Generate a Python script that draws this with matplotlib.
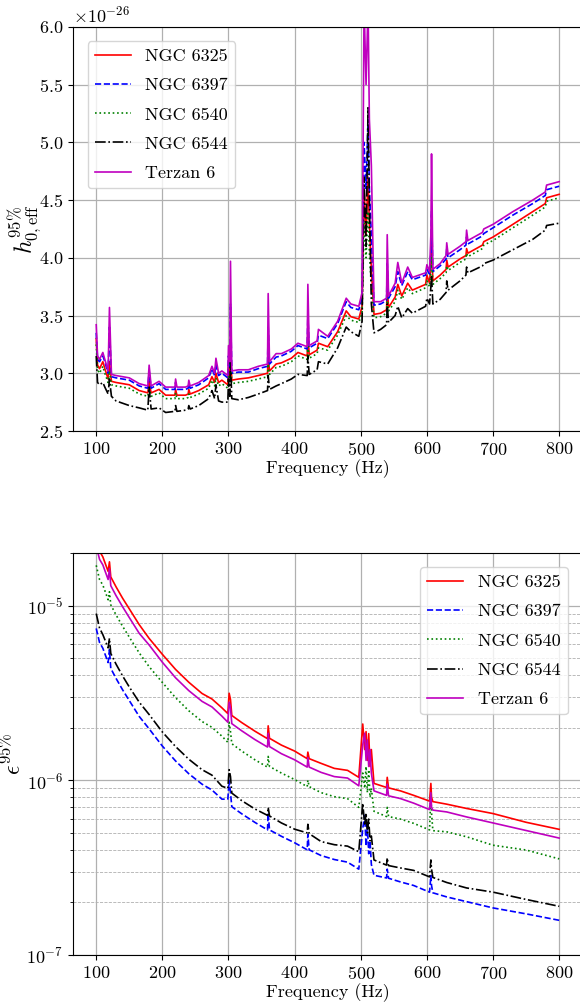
import matplotlib

matplotlib.use("Agg")
import matplotlib.pyplot as plt

plt.rcParams["font.family"] = "serif"
plt.rcParams["font.serif"] = ["cmr10", "DejaVu Serif"]
plt.rcParams["mathtext.fontset"] = "cm"
plt.rcParams["axes.formatter.use_mathtext"] = True
plt.rcParams["axes.unicode_minus"] = False

LABELS = ["NGC 6325", "NGC 6397", "NGC 6540", "NGC 6544", "Terzan 6"]
STYLES = ["r-", "b--", "g:", "k-.", "m-"]

# Top panel: effective strain upper limits (units of 1e-26)
FREQ_H = [
    100, 102, 105, 110, 113, 118, 120, 123, 130, 140,
    150, 165, 178, 180, 183, 195, 205, 219, 220, 222,
    235, 239, 240, 242, 255, 270, 275, 279, 281, 285,
    290, 299, 300, 302, 303, 305, 315, 330, 345, 359,
    360, 362, 372, 380, 395, 405, 419, 420, 422, 434,
    436, 450, 465, 478, 485, 497, 502, 505, 508, 511,
    513, 516, 520, 530, 539, 540, 542, 552, 556, 562,
    571, 578, 598, 600, 604, 606, 607, 609, 620, 629,
    630, 632, 650, 659, 660, 662, 684, 686, 700, 730,
    760, 779, 781, 800,
]
H_NGC6325 = [
    3.30, 3.07, 3.04, 3.10, 3.04, 2.95, 3.10, 2.93, 2.92, 2.91,
    2.90, 2.85, 2.83, 2.93, 2.83, 2.86, 2.81, 2.81, 2.86, 2.81,
    2.81, 2.82, 2.86, 2.82, 2.85, 2.90, 2.97, 2.92, 3.00, 2.92,
    2.94, 2.90, 3.05, 2.97, 3.20, 2.94, 2.95, 2.96, 2.98, 3.00,
    3.15, 3.02, 3.08, 3.09, 3.13, 3.18, 3.15, 3.35, 3.16, 3.20,
    3.26, 3.23, 3.36, 3.54, 3.49, 3.47, 3.58, 4.60, 4.20, 4.70,
    4.30, 3.90, 3.51, 3.52, 3.55, 3.75, 3.57, 3.66, 3.77, 3.67,
    3.78, 3.72, 3.77, 3.85, 3.78, 3.95, 4.15, 3.80, 3.85, 3.90,
    3.98, 3.92, 3.99, 4.02, 4.08, 4.04, 4.11, 4.14, 4.18, 4.29,
    4.40, 4.47, 4.52, 4.55,
]
H_NGC6397 = [
    3.35, 3.12, 3.10, 3.15, 3.10, 3.00, 3.40, 2.97, 2.96, 2.95,
    2.94, 2.89, 2.87, 3.02, 2.87, 2.91, 2.86, 2.86, 2.92, 2.86,
    2.86, 2.87, 2.91, 2.87, 2.90, 2.96, 3.04, 2.98, 3.08, 2.98,
    3.00, 2.96, 3.15, 3.05, 3.60, 3.00, 3.01, 3.01, 3.04, 3.06,
    3.40, 3.08, 3.14, 3.15, 3.19, 3.24, 3.21, 3.50, 3.22, 3.26,
    3.33, 3.30, 3.43, 3.62, 3.57, 3.55, 3.65, 5.00, 4.60, 5.20,
    4.60, 4.20, 3.59, 3.60, 3.63, 3.95, 3.65, 3.75, 3.88, 3.76,
    3.88, 3.81, 3.85, 3.90, 3.86, 4.05, 4.40, 3.88, 3.93, 3.99,
    4.08, 4.00, 4.07, 4.11, 4.18, 4.12, 4.19, 4.21, 4.26, 4.37,
    4.47, 4.54, 4.59, 4.62,
]
H_NGC6540 = [
    3.25, 3.03, 3.00, 3.06, 3.00, 2.92, 3.02, 2.90, 2.89, 2.88,
    2.87, 2.82, 2.80, 2.88, 2.80, 2.83, 2.78, 2.78, 2.83, 2.78,
    2.78, 2.79, 2.82, 2.79, 2.82, 2.87, 2.94, 2.89, 2.96, 2.89,
    2.91, 2.87, 2.99, 2.93, 3.10, 2.91, 2.92, 2.93, 2.95, 2.97,
    3.08, 2.99, 3.05, 3.06, 3.10, 3.15, 3.12, 3.25, 3.13, 3.17,
    3.22, 3.20, 3.33, 3.50, 3.46, 3.44, 3.52, 4.30, 4.00, 4.40,
    4.05, 3.75, 3.48, 3.49, 3.52, 3.65, 3.54, 3.62, 3.72, 3.64,
    3.74, 3.69, 3.74, 3.80, 3.75, 3.88, 4.00, 3.77, 3.82, 3.87,
    3.93, 3.89, 3.96, 3.99, 4.04, 4.01, 4.08, 4.11, 4.15, 4.26,
    4.37, 4.44, 4.49, 4.52,
]
H_NGC6544 = [
    3.15, 2.92, 2.90, 2.92, 2.88, 2.82, 2.95, 2.80, 2.76, 2.74,
    2.72, 2.70, 2.68, 2.88, 2.69, 2.70, 2.66, 2.67, 2.72, 2.67,
    2.68, 2.69, 2.72, 2.69, 2.72, 2.78, 2.85, 2.78, 2.90, 2.76,
    2.75, 2.75, 2.95, 2.80, 3.10, 2.78, 2.77, 2.79, 2.82, 2.85,
    2.98, 2.86, 2.89, 2.91, 2.95, 2.99, 2.98, 3.15, 2.99, 3.03,
    3.10, 3.08, 3.22, 3.40, 3.36, 3.32, 3.45, 4.70, 4.10, 5.30,
    4.50, 3.60, 3.35, 3.38, 3.42, 3.60, 3.44, 3.50, 3.58, 3.48,
    3.56, 3.52, 3.58, 3.65, 3.60, 3.75, 3.85, 3.60, 3.64, 3.70,
    3.80, 3.72, 3.80, 3.85, 3.92, 3.87, 3.93, 3.95, 3.98, 4.07,
    4.16, 4.24, 4.28, 4.30,
]
H_TERZAN6 = [
    3.42, 3.15, 3.12, 3.18, 3.12, 3.02, 3.57, 2.99, 2.98, 2.97,
    2.96, 2.91, 2.89, 3.07, 2.89, 2.93, 2.88, 2.88, 2.95, 2.88,
    2.88, 2.89, 2.94, 2.89, 2.92, 2.98, 3.06, 3.00, 3.13, 3.00,
    3.02, 2.98, 3.24, 3.10, 3.97, 3.02, 3.03, 3.03, 3.06, 3.08,
    3.69, 3.10, 3.17, 3.17, 3.21, 3.26, 3.23, 3.77, 3.24, 3.28,
    3.38, 3.32, 3.45, 3.65, 3.60, 3.58, 3.70, 6.20, 5.50, 6.20,
    5.20, 4.80, 3.62, 3.62, 3.65, 4.20, 3.67, 3.78, 3.96, 3.78,
    3.92, 3.83, 3.87, 3.94, 3.88, 4.20, 4.90, 3.90, 3.95, 4.02,
    4.13, 4.03, 4.10, 4.14, 4.24, 4.15, 4.22, 4.25, 4.29, 4.40,
    4.50, 4.57, 4.63, 4.66,
]

# Bottom panel: ellipticity upper limits
FREQ_E = [
    100, 105, 110, 118, 120, 122, 130, 140, 150, 165,
    180, 200, 220, 240, 260, 275, 290, 299, 301, 303,
    305, 320, 340, 359, 360, 362, 380, 400, 419, 420,
    422, 440, 460, 480, 497, 503, 506, 508, 510, 512,
    514, 516, 520, 539, 540, 542, 560, 580, 604, 606,
    607, 609, 630, 660, 700, 750, 800,
]
E_NGC6325 = [
    2.45e-5, 2.05e-5, 1.90e-5, 1.57e-5, 1.78e-5, 1.46e-5, 1.28e-5, 1.10e-5, 9.58e-6, 7.78e-6,
    6.49e-6, 5.26e-6, 4.31e-6, 3.64e-6, 3.14e-6, 2.92e-6, 2.60e-6, 2.41e-6, 3.15e-6, 2.90e-6,
    2.35e-6, 2.14e-6, 1.91e-6, 1.73e-6, 2.05e-6, 1.74e-6, 1.59e-6, 1.47e-6, 1.33e-6, 1.45e-6,
    1.33e-6, 1.25e-6, 1.17e-6, 1.14e-6, 1.04e-6, 2.10e-6, 1.50e-6, 1.90e-6, 1.30e-6, 1.85e-6,
    1.20e-6, 1.50e-6, 9.6e-7, 9.1e-7, 1.04e-6, 9.05e-7, 8.7e-7, 8.2e-7, 7.6e-7, 9.6e-7,
    8.0e-7, 7.55e-7, 7.3e-7, 6.9e-7, 6.45e-7, 5.75e-7, 5.24e-7,
]
E_NGC6397 = [
    7.4e-6, 6.15e-6, 5.7e-6, 4.72e-6, 5.6e-6, 4.37e-6, 3.83e-6, 3.29e-6, 2.86e-6, 2.32e-6,
    1.97e-6, 1.57e-6, 1.29e-6, 1.09e-6, 9.5e-7, 8.8e-7, 7.8e-7, 7.8e-7, 1.0e-6, 8.5e-7,
    7.06e-7, 6.43e-7, 5.74e-7, 5.2e-7, 6.5e-7, 5.2e-7, 4.78e-7, 4.39e-7, 4.0e-7, 4.9e-7,
    4.0e-7, 3.71e-7, 3.52e-7, 3.4e-7, 3.1e-7, 5.3e-7, 6.3e-7, 4.2e-7, 5.5e-7, 3.8e-7,
    4.5e-7, 3.3e-7, 2.86e-7, 2.76e-7, 3.1e-7, 2.75e-7, 2.62e-7, 2.5e-7, 2.29e-7, 2.85e-7,
    2.5e-7, 2.27e-7, 2.15e-7, 2.02e-7, 1.86e-7, 1.72e-7, 1.58e-7,
]
E_NGC6540 = [
    1.7e-5, 1.41e-5, 1.31e-5, 1.08e-5, 1.2e-5, 1.01e-5, 8.84e-6, 7.6e-6, 6.6e-6, 5.36e-6,
    4.47e-6, 3.63e-6, 2.97e-6, 2.5e-6, 2.17e-6, 2.01e-6, 1.79e-6, 1.65e-6, 2.15e-6, 1.9e-6,
    1.62e-6, 1.47e-6, 1.31e-6, 1.19e-6, 1.37e-6, 1.2e-6, 1.10e-6, 1.01e-6, 9.2e-7, 1.0e-6,
    9.2e-7, 8.5e-7, 8.06e-7, 7.85e-7, 7.0e-7, 1.1e-6, 9e-7, 1.2e-6, 8.5e-7, 1.15e-6,
    8e-7, 9e-7, 6.65e-7, 6.2e-7, 7.0e-7, 6.2e-7, 6.0e-7, 5.67e-7, 5.2e-7, 8.4e-7,
    6.5e-7, 5.15e-7, 5.07e-7, 4.75e-7, 4.25e-7, 3.99e-7, 3.55e-7,
]
E_NGC6544 = [
    9.0e-6, 7.44e-6, 6.82e-6, 5.73e-6, 6.5e-6, 5.32e-6, 4.62e-6, 3.95e-6, 3.42e-6, 2.8e-6,
    2.38e-6, 1.89e-6, 1.56e-6, 1.32e-6, 1.15e-6, 1.07e-6, 9.25e-7, 9.0e-7, 1.15e-6, 1.05e-6,
    8.45e-7, 7.65e-7, 6.85e-7, 6.3e-7, 7.0e-7, 6.25e-7, 5.7e-7, 5.25e-7, 5.0e-7, 5.6e-7,
    4.95e-7, 4.46e-7, 4.28e-7, 4.2e-7, 3.9e-7, 7.4e-7, 5.5e-7, 6.5e-7, 5.0e-7, 6.0e-7,
    4.5e-7, 4.8e-7, 3.5e-7, 3.27e-7, 3.6e-7, 3.25e-7, 3.15e-7, 3.05e-7, 2.8e-7, 3.5e-7,
    3.1e-7, 2.78e-7, 2.6e-7, 2.42e-7, 2.29e-7, 2.08e-7, 1.9e-7,
]
E_TERZAN6 = [
    2.2e-5, 1.84e-5, 1.71e-5, 1.41e-5, 1.63e-5, 1.30e-5, 1.14e-5, 9.83e-6, 8.54e-6, 6.94e-6,
    5.95e-6, 4.74e-6, 3.86e-6, 3.26e-6, 2.83e-6, 2.63e-6, 2.33e-6, 2.15e-6, 2.8e-6, 2.6e-6,
    2.11e-6, 1.92e-6, 1.71e-6, 1.55e-6, 1.86e-6, 1.56e-6, 1.42e-6, 1.31e-6, 1.19e-6, 1.35e-6,
    1.19e-6, 1.11e-6, 1.05e-6, 1.03e-6, 9.3e-7, 1.6e-6, 1.86e-6, 1.3e-6, 1.7e-6, 1.2e-6,
    1.5e-6, 1.1e-6, 8.7e-7, 8.2e-7, 9.5e-7, 8.15e-7, 7.86e-7, 7.4e-7, 6.8e-7, 8.5e-7,
    7.0e-7, 6.75e-7, 6.59e-7, 6.17e-7, 5.7e-7, 5.16e-7, 4.67e-7,
]

H_SERIES = [H_NGC6325, H_NGC6397, H_NGC6540, H_NGC6544, H_TERZAN6]
E_SERIES = [E_NGC6325, E_NGC6397, E_NGC6540, E_NGC6544, E_TERZAN6]
XTICKS = [100, 200, 300, 400, 500, 600, 700, 800]

FS = 13

fig = plt.figure(figsize=(5.8, 10.02), dpi=100)
ax1 = fig.add_axes([0.126, 0.5699, 0.878, 0.4032])
ax2 = fig.add_axes([0.126, 0.0469, 0.878, 0.4012])

# Top panel
for vals, style, label in zip(H_SERIES, STYLES, LABELS):
    ax1.plot(FREQ_H, [v * 1e-26 for v in vals], style, linewidth=1.2, label=label)
ax1.set_xlim(65, 835)
ax1.set_ylim(2.5e-26, 6.0e-26)
ax1.set_xticks(XTICKS)
ax1.set_xlabel("Frequency (Hz)", fontsize=FS, labelpad=1)
ax1.set_ylabel(r"$h_{0,\mathrm{eff}}^{95\%}$", fontsize=FS + 4, labelpad=-4)
ax1.tick_params(labelsize=FS)
ax1.yaxis.get_offset_text().set_fontsize(FS)
ax1.grid(True, color="#b0b0b0", linewidth=0.9)
ax1.legend(loc="upper left", fontsize=FS, borderaxespad=0.8, labelspacing=0.75)

# Bottom panel
for vals, style, label in zip(E_SERIES, STYLES, LABELS):
    ax2.plot(FREQ_E, vals, style, linewidth=1.2, label=label)
ax2.set_yscale("log")
ax2.set_xlim(65, 835)
ax2.set_ylim(1e-7, 2e-5)
ax2.set_xticks(XTICKS)
ax2.set_xlabel("Frequency (Hz)", fontsize=FS, labelpad=1)
ax2.set_ylabel(r"$\epsilon^{95\%}$", fontsize=FS + 4, labelpad=0)
ax2.tick_params(labelsize=FS)
ax2.grid(True, which="major", color="#b0b0b0", linewidth=0.9)
ax2.grid(True, which="minor", axis="y", color="#b0b0b0", linestyle="--", linewidth=0.6)
ax2.legend(loc="upper right", fontsize=FS, borderaxespad=0.8, labelspacing=0.75)

plt.savefig("out.png", dpi=100)
plt.close()
